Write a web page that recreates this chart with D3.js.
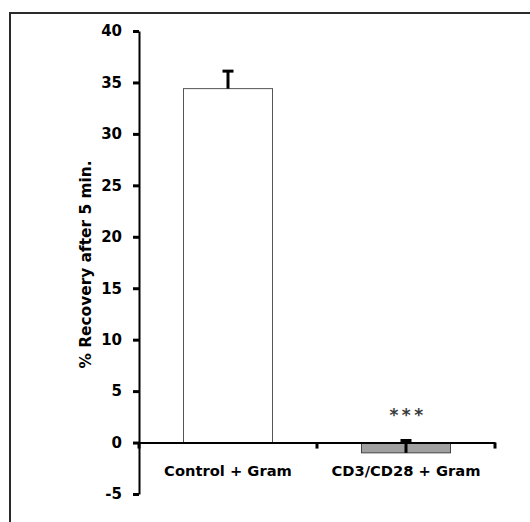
<!DOCTYPE html>
<html>
<head>
<meta charset="utf-8">
<script src="https://cdn.jsdelivr.net/npm/d3@7"></script>
<style>
  body { margin: 0; background: #fff; }
  text { font-family: "DejaVu Sans", sans-serif; }
</style>
</head>
<body>
<div class="svg-container"></div>
<script>
// chart data
const categories = ['Control + Gram', 'CD3/CD28 + Gram'];
const recovery = [34.4, -1.0];
const errorUp = [1.7, 1.2];
const barColours = ['#ffffff', '#a0a0a0'];
const yTicks = [-5, 0, 5, 10, 15, 20, 25, 30, 35, 40];
const sigMarks = ['', '***'];

const width = 530;
const height = 522;
const margin = { top: 31, right: 35, bottom: 28, left: 139 };

const svg = d3.select('.svg-container')
  .append('svg')
  .attr('width', width)
  .attr('height', height);

// outer frame, runs off the right and bottom edges
svg.append('rect')
  .attr('x', 10)
  .attr('y', 13)
  .attr('width', 540)
  .attr('height', 530)
  .attr('fill', 'none')
  .attr('stroke', '#2b2b2b')
  .attr('stroke-width', 2);

const y = d3.scaleLinear()
  .domain([-5, 40])
  .range([height - margin.bottom, margin.top]);

const x = d3.scaleBand()
  .domain(categories)
  .range([margin.left, width - margin.right])
  .padding(0);

const barW = x.bandwidth() * 0.5;

// bars
svg.selectAll('rect.bar')
  .data(categories)
  .enter()
  .append('rect')
  .attr('class', 'bar')
  .attr('x', d => x(d) + (x.bandwidth() - barW) / 2)
  .attr('y', (d, i) => y(Math.max(0, recovery[i])))
  .attr('width', barW)
  .attr('height', (d, i) => Math.abs(y(recovery[i]) - y(0)))
  .attr('fill', (d, i) => barColours[i])
  .attr('stroke', (d, i) => i === 0 ? '#555' : '#444')
  .attr('stroke-width', 1);

// error bars (upper only)
const err = svg.selectAll('g.err')
  .data(categories)
  .enter()
  .append('g')
  .attr('class', 'err');

err.append('line')
  .attr('x1', d => x(d) + x.bandwidth() / 2)
  .attr('x2', d => x(d) + x.bandwidth() / 2)
  .attr('y1', (d, i) => y(recovery[i]))
  .attr('y2', (d, i) => y(recovery[i] + errorUp[i]))
  .attr('stroke', '#000')
  .attr('stroke-width', 3);

err.append('line')
  .attr('x1', d => x(d) + x.bandwidth() / 2 - 5.5)
  .attr('x2', d => x(d) + x.bandwidth() / 2 + 5.5)
  .attr('y1', (d, i) => y(recovery[i] + errorUp[i]))
  .attr('y2', (d, i) => y(recovery[i] + errorUp[i]))
  .attr('stroke', '#000')
  .attr('stroke-width', 3);

// y axis
const yAxis = svg.append('g')
  .attr('transform', `translate(${margin.left},0)`)
  .call(d3.axisLeft(y).tickValues(yTicks).tickSize(6).tickSizeOuter(0).tickPadding(11)
    .tickFormat(d => String(d)));

yAxis.select('.domain').attr('stroke', '#000').attr('stroke-width', 2);
yAxis.selectAll('.tick line').attr('stroke', '#000').attr('stroke-width', 3);
yAxis.selectAll('.tick text')
  .style('font-family', '"DejaVu Sans", sans-serif')
  .style('font-size', '15px')
  .style('font-weight', 'bold')
  .attr('fill', '#000');

// x axis at zero
const xAxis = svg.append('g')
  .attr('transform', `translate(0,${y(0)})`)
  .call(d3.axisBottom(x).tickSize(0).tickFormat(''));

xAxis.select('.domain').attr('stroke', '#000').attr('stroke-width', 2);

// tick marks between categories
const xTickPos = [margin.left, ...categories.slice(1).map(d => x(d)), width - margin.right];
svg.selectAll('line.xtick')
  .data(xTickPos)
  .enter()
  .append('line')
  .attr('x1', d => d)
  .attr('x2', d => d)
  .attr('y1', y(0))
  .attr('y2', y(0) + 6)
  .attr('stroke', '#000')
  .attr('stroke-width', 3);

// category labels
svg.selectAll('text.cat')
  .data(categories)
  .enter()
  .append('text')
  .attr('class', 'cat')
  .attr('x', d => x(d) + x.bandwidth() / 2)
  .attr('y', y(0) + 33)
  .attr('text-anchor', 'middle')
  .style('font-size', '14.7px')
  .style('font-weight', 'bold')
  .attr('fill', '#000')
  .text(d => d);

// significance stars
svg.selectAll('text.sig')
  .data(categories)
  .enter()
  .append('text')
  .attr('class', 'sig')
  .attr('x', d => x(d) + x.bandwidth() / 2 + 2)
  .attr('y', y(0) - 22)
  .attr('text-anchor', 'middle')
  .style('font-size', '17px')
  .style('font-weight', 'bold')
  .style('letter-spacing', '3.5px')
  .attr('fill', '#3a3a3a')
  .text((d, i) => sigMarks[i]);

// y axis title
svg.append('text')
  .attr('transform', `translate(91,${(y(40) + y(-5)) / 2 + 2}) rotate(-90)`)
  .attr('text-anchor', 'middle')
  .style('font-size', '15.4px')
  .style('font-weight', 'bold')
  .attr('fill', '#000')
  .text('% Recovery after 5 min.');
</script>
</body>
</html>
